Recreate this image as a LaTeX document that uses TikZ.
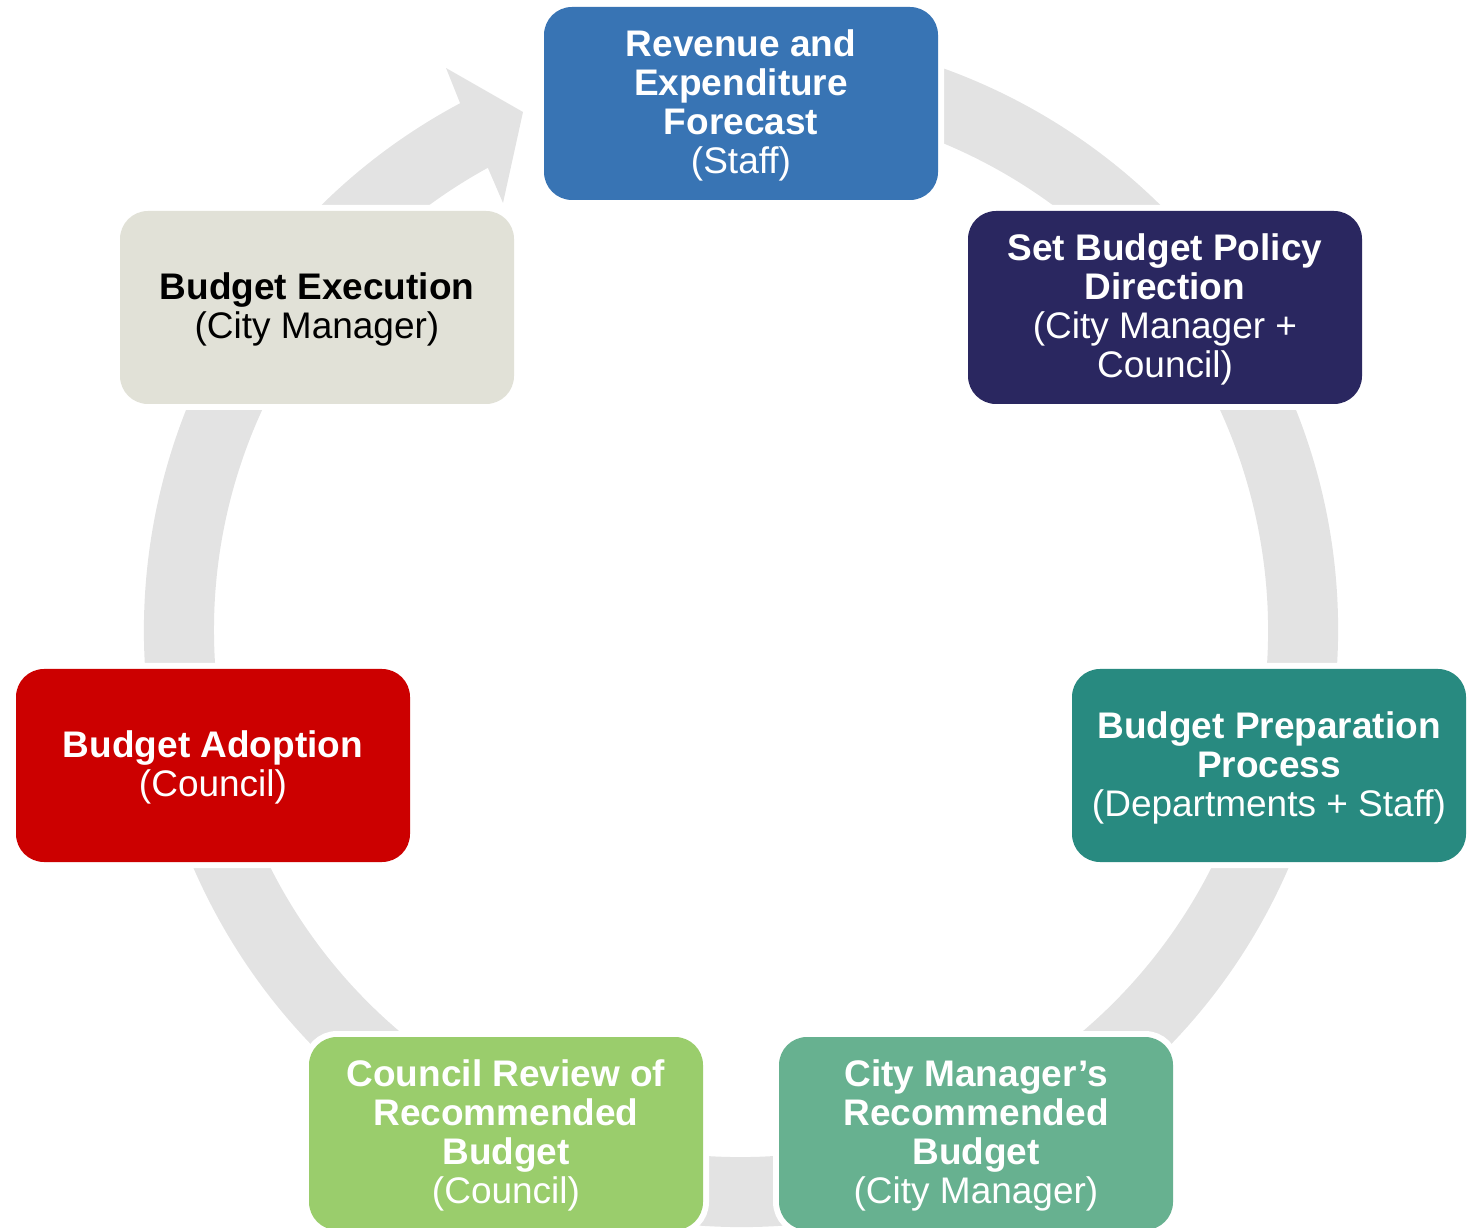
\documentclass[tikz,border=0pt]{standalone}
\usepackage{fontspec}
\setmainfont{Liberation Sans}
\usetikzlibrary{calc}
\definecolor{ringgray}{RGB}{227,227,227}
\definecolor{cblue}{RGB}{56,116,180}
\definecolor{cnavy}{RGB}{42,39,96}
\definecolor{cteal}{RGB}{40,138,128}
\definecolor{cmidgreen}{RGB}{103,177,144}
\definecolor{clightgreen}{RGB}{154,205,108}
\definecolor{cred}{RGB}{204,0,0}
\definecolor{cbeige}{RGB}{225,225,215}
\tikzset{
  box/.style={rounded corners=28pt, minimum width=394pt, minimum height=193pt,
    inner sep=0pt, preaction={draw=white, line width=12pt}},
  boxtext/.style={inner sep=0pt, align=center, text=white,
    font=\fontsize{37}{39}\selectfont}
}
\begin{document}
\begin{tikzpicture}[x=1pt,y=1pt]
\useasboundingbox (0,0) rectangle (1479,1227);
\clip (0,0) rectangle (1479,1227);
\coordinate (C) at (741,597);
\coordinate (barbA) at (446,1159);
\coordinate (tip) at (523,1115);
\coordinate (barbB) at (503,1024);
% ring with arrow head
\fill[ringgray] ($(C)+(118.07:597)$) arc[start angle=118.07, end angle=460, radius=597]
  -- ($(C)+(460:527)$) arc[start angle=460, end angle=118.71, radius=527]
  -- (barbB) -- (tip) -- (barbA) -- cycle;
% boxes
\node[box, fill=cblue] (rev) at (741,1123.5) {};
\node[boxtext] (revt) at ([yshift=-2pt]rev.center)
  {\textbf{Revenue and}\\\textbf{Expenditure}\\\textbf{Forecast}\\(Staff)};
\node[box, fill=cnavy] (pol) at (1165,919.5) {};
\node[boxtext] (polt) at ([yshift=-2pt]pol.center)
  {\textbf{Set Budget Policy}\\\textbf{Direction}\\(City Manager +\\Council)};
\node[box, fill=cteal] (prep) at (1269,461.5) {};
\node[boxtext] (prept) at ([yshift=-2pt]prep.center)
  {\textbf{Budget Preparation}\\\textbf{Process}\\(Departments + Staff)};
\node[box, fill=cmidgreen] (cm) at (976,93.5) {};
\node[boxtext] (cmt) at ([yshift=-2pt]cm.center)
  {\textbf{City Manager’s}\\\textbf{Recommended}\\\textbf{Budget}\\(City Manager)};
\node[box, fill=clightgreen] (crev) at (506,93.5) {};
\node[boxtext] (crevt) at ([yshift=-2pt]crev.center)
  {\textbf{Council Review of}\\\textbf{Recommended}\\\textbf{Budget}\\(Council)};
\node[box, fill=cred] (adopt) at (213,461.5) {};
\node[boxtext] (adoptt) at ([yshift=-2pt]adopt.center)
  {\textbf{Budget Adoption}\\(Council)};
\node[box, fill=cbeige] (exec) at (317,919.5) {};
\node[boxtext, text=black] (exect) at ([yshift=-2pt]exec.center)
  {\textbf{Budget Execution}\\(City Manager)};
\end{tikzpicture}
\end{document}
